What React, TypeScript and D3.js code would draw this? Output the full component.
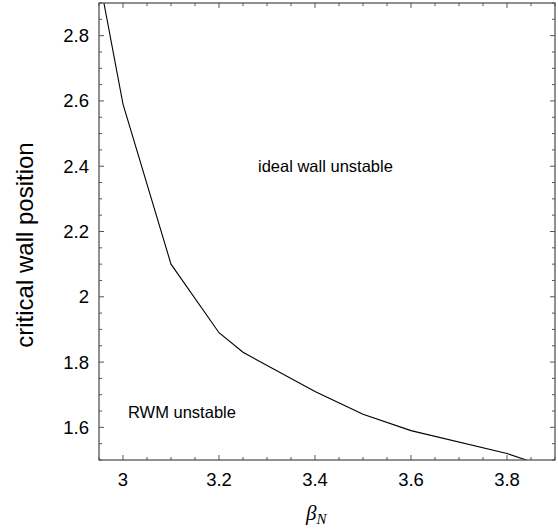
import React, { useEffect, useRef } from 'react';
import * as d3 from 'd3';

// curve
const betaN = [2.95, 3.0, 3.1, 3.2, 3.25, 3.4, 3.5, 3.6, 3.8, 3.85];
const wallPos = [2.98, 2.59, 2.1, 1.89, 1.83, 1.71, 1.64, 1.59, 1.52, 1.495];

const xMajor = [3, 3.2, 3.4, 3.6, 3.8];
const yMajor = [1.6, 1.8, 2, 2.2, 2.4, 2.6, 2.8];

export default function App() {
  const svgRef = useRef<SVGSVGElement>(null);

  useEffect(() => {
    const svg = d3.select(svgRef.current);
    svg.selectAll('*').remove();

    const width = 558;
    const height = 531;
    const margin = { top: 3, right: 3, bottom: 71, left: 99 };
    const frame = '#555';

    const x = d3.scaleLinear()
      .domain([2.95, 3.9])
      .range([margin.left, width - margin.right]);

    const y = d3.scaleLinear()
      .domain([1.5, 2.9])
      .range([height - margin.bottom, margin.top]);

    const xMinor = d3.range(2.95, 3.9001, 0.05).map(v => +v.toFixed(2));
    const yMinor = d3.range(1.5, 2.9001, 0.05).map(v => +v.toFixed(2));

    svg.append('clipPath').attr('id', 'plot-clip')
      .append('rect')
      .attr('x', x(2.95)).attr('y', y(2.9))
      .attr('width', x(3.9) - x(2.95))
      .attr('height', y(1.5) - y(2.9));

    // the curve
    const line = d3.line<number>()
      .x(d => x(d))
      .y((_, i) => y(wallPos[i]));

    svg.append('path')
      .datum(betaN)
      .attr('d', line)
      .attr('clip-path', 'url(#plot-clip)')
      .attr('fill', 'none')
      .attr('stroke', '#000')
      .attr('stroke-width', 1.1);

    // ticks on all four sides, pointing in
    const ticks = svg.append('g').attr('stroke', frame).attr('stroke-width', 1);
    const isMajor = (v: number, list: number[]) => list.some(m => Math.abs(m - v) < 1e-6);
    xMinor.forEach(v => {
      const len = isMajor(v, xMajor) ? 5 : 3;
      ticks.append('line').attr('x1', x(v)).attr('x2', x(v))
        .attr('y1', y(1.5)).attr('y2', y(1.5) - len);
      ticks.append('line').attr('x1', x(v)).attr('x2', x(v))
        .attr('y1', y(2.9)).attr('y2', y(2.9) + len);
    });
    yMinor.forEach(v => {
      const len = isMajor(v, yMajor) ? 5 : 3;
      ticks.append('line').attr('y1', y(v)).attr('y2', y(v))
        .attr('x1', x(2.95)).attr('x2', x(2.95) + len);
      ticks.append('line').attr('y1', y(v)).attr('y2', y(v))
        .attr('x1', x(3.9)).attr('x2', x(3.9) - len);
    });

    // frame
    svg.append('rect')
      .attr('x', x(2.95)).attr('y', y(2.9))
      .attr('width', x(3.9) - x(2.95))
      .attr('height', y(1.5) - y(2.9))
      .attr('fill', 'none')
      .attr('stroke', frame)
      .attr('stroke-width', 1.3);

    const font = 'Liberation Sans, Arial, Helvetica, sans-serif';

    // tick labels
    svg.append('g').selectAll('text').data(xMajor).join('text')
      .attr('x', d => x(d))
      .attr('y', y(1.5) + 26)
      .attr('text-anchor', 'middle')
      .attr('font-family', font)
      .attr('font-size', 18.5)
      .text(d => d3.format('~g')(d));

    svg.append('g').selectAll('text').data(yMajor).join('text')
      .attr('x', x(2.95) - 10)
      .attr('y', d => y(d) + 6.5)
      .attr('text-anchor', 'end')
      .attr('font-family', font)
      .attr('font-size', 18.5)
      .text(d => d3.format('~g')(d));

    // axis titles
    svg.append('text')
      .attr('transform', 'translate(33,245) rotate(-90)')
      .attr('text-anchor', 'middle')
      .attr('font-family', font)
      .attr('font-size', 24)
      .text('critical wall position');

    const xt = svg.append('text')
      .attr('x', 306)
      .attr('y', 520)
      .attr('font-family', 'Liberation Serif, Times New Roman, serif')
      .attr('font-style', 'italic')
      .attr('font-size', 21);
    xt.append('tspan').text('β');
    xt.append('tspan').attr('dy', 4).attr('font-size', 15).text('N');

    // region labels
    svg.append('text')
      .attr('x', 258).attr('y', 172)
      .attr('font-family', font)
      .attr('font-size', 16.5)
      .text('ideal wall unstable');

    svg.append('text')
      .attr('x', 128).attr('y', 418)
      .attr('font-family', font)
      .attr('font-size', 16.5)
      .text('RWM unstable');
  }, []);

  return (
    <svg
      ref={svgRef}
      width={558}
      height={531}
      style={{ position: 'absolute', left: 0, top: 0, backgroundColor: 'white' }}
    />
  );
}
